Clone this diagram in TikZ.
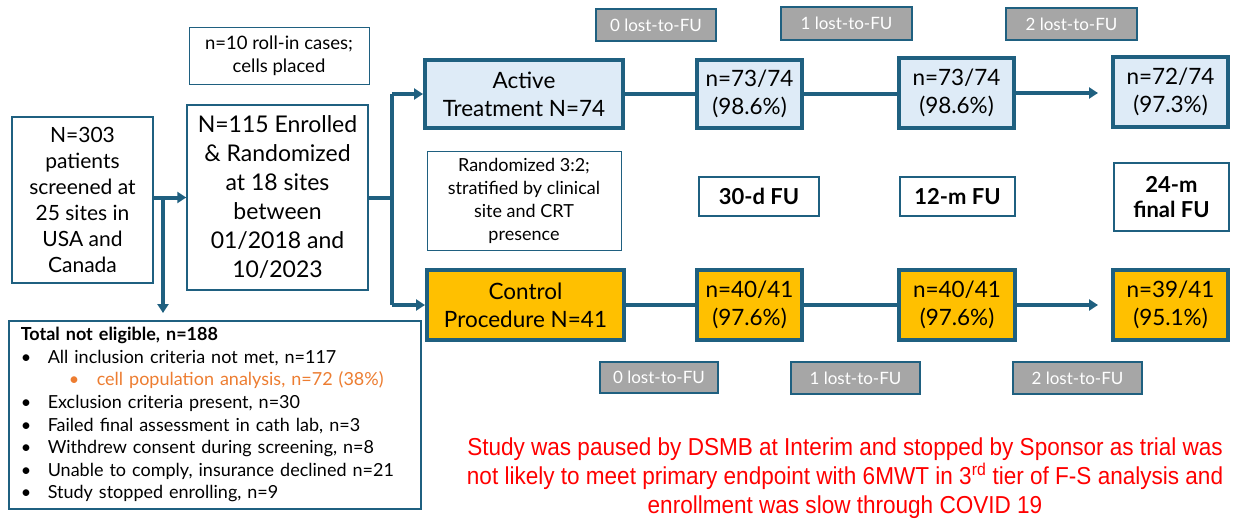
\documentclass[tikz,border=0pt]{standalone}
\usepackage{fontspec}
\setmainfont{Lato}
\newfontfamily\redfont[FakeStretch=0.92]{Liberation Sans}
\usetikzlibrary{arrows.meta}
\definecolor{dblue}{RGB}{31,96,128}
\definecolor{lblue}{RGB}{222,235,247}
\definecolor{gold}{RGB}{255,192,0}
\definecolor{lgray}{RGB}{166,166,166}
\definecolor{orangetext}{RGB}{237,125,49}
\definecolor{redtext}{RGB}{255,0,0}
\begin{document}
\begin{tikzpicture}[x=1pt,y=-1pt,
  thinbox/.style={draw=dblue,line width=1.5pt,fill=white,inner sep=0pt,align=center},
  thickbox/.style={draw=dblue,line width=4pt,inner sep=0pt,align=center,font=\fontsize{22.5}{28}\selectfont},
  activebox/.style={thickbox,fill=lblue},
  ctrlbox/.style={thickbox,fill=gold},
  lostbox/.style={draw=dblue,line width=1.2pt,fill=lgray,text=white,inner sep=0pt,font=\fontsize{17}{18}\selectfont},
  fubox/.style={thinbox,font=\bfseries\fontsize{22}{25}\selectfont},
  conn/.style={draw=dblue,line width=4pt},
  arr/.style={-{Triangle[length=9pt,width=11pt]}}
]
\useasboundingbox (0,0) rectangle (1248,523);

% left column
\node[thinbox,minimum width=141pt,minimum height=166pt,font=\fontsize{21}{26}\selectfont] (scr) at (82.5,200)
  {N=303\\patients\\screened at\\25 sites in\\USA and\\Canada};
\node[thinbox,minimum width=181pt,minimum height=185pt,font=\fontsize{23}{29}\selectfont] (enr) at (277.5,197.5)
  {N=115 Enrolled\\\& Randomized\\at 18 sites\\between\\01/2018 and\\10/2023};
\node[thinbox,line width=1pt,minimum width=180pt,minimum height=57pt,font=\fontsize{18.5}{23}\selectfont] (roll) at (279,55.5)
  {n=10 roll-in cases;\\cells placed};

% not eligible box
\node[draw=dblue,line width=1.5pt,fill=white,anchor=north west,text width=388pt,inner xsep=12pt,inner ysep=3pt,
      minimum height=188pt,align=left,font=\fontsize{18}{22.6}\selectfont] (ne) at (8,320)
  {\textbf{Total not eligible, n=188}\\
   \makebox[27pt][l]{\textbullet}All inclusion criteria not met, n=117\\
   \hspace*{48pt}\makebox[28pt][l]{\textcolor{orangetext}{\textbullet}}\textcolor{orangetext}{cell population analysis, n=72 (38\%)}\\
   \makebox[27pt][l]{\textbullet}Exclusion criteria present, n=30\\
   \makebox[27pt][l]{\textbullet}Failed final assessment in cath lab, n=3\\
   \makebox[27pt][l]{\textbullet}Withdrew consent during screening, n=8\\
   \makebox[27pt][l]{\textbullet}Unable to comply, insurance declined n=21\\
   \makebox[27pt][l]{\textbullet}Study stopped enrolling, n=9};

% active row
\node[activebox,minimum width=198pt,minimum height=68pt] (act) at (524,94) {Active\\Treatment N=74};
\node[activebox,minimum width=105pt,minimum height=68pt] (a2) at (749.5,94) {n=73/74\\(98.6\%)};
\node[activebox,minimum width=115pt,minimum height=70pt] (a3) at (956.5,93) {n=73/74\\(98.6\%)};
\node[activebox,minimum width=115pt,minimum height=70pt] (a4) at (1170.5,92) {n=72/74\\(97.3\%)};

% top lost boxes
\node[lostbox,minimum width=120pt,minimum height=32pt] (l0) at (656,25) {0 lost-to-FU};
\node[lostbox,minimum width=131pt,minimum height=33pt] (l1) at (846.5,23.5) {1 lost-to-FU};
\node[lostbox,minimum width=131pt,minimum height=32pt] (l2) at (1071.5,24) {2 lost-to-FU};

% middle row
\node[thinbox,line width=1pt,minimum width=194pt,minimum height=99pt,font=\fontsize{18}{23}\selectfont] (rand) at (524,200.5)
  {Randomized 3:2;\\stratified by clinical\\site and CRT\\presence};
\node[fubox,minimum width=120pt,minimum height=39pt] (fu30) at (759,196.5) {30-d FU};
\node[fubox,minimum width=115pt,minimum height=39pt] (fu12) at (957.5,196.5) {12-m FU};
\node[fubox,minimum width=115pt,minimum height=68pt] (fu24) at (1171.5,197) {24-m\\final FU};

% control row
\node[ctrlbox,minimum width=197pt,minimum height=70pt] (ctl) at (525.5,305) {Control\\Procedure N=41};
\node[ctrlbox,minimum width=105pt,minimum height=70pt] (c2) at (749.5,305) {n=40/41\\(97.6\%)};
\node[ctrlbox,minimum width=116pt,minimum height=70pt] (c3) at (957,305) {n=40/41\\(97.6\%)};
\node[ctrlbox,minimum width=115pt,minimum height=70pt] (c4) at (1170.5,305) {n=39/41\\(95.1\%)};

% bottom lost boxes
\node[lostbox,minimum width=118pt,minimum height=31pt] (b0) at (659,377.5) {0 lost-to-FU};
\node[lostbox,minimum width=129pt,minimum height=32pt] (b1) at (855.5,378) {1 lost-to-FU};
\node[lostbox,minimum width=129pt,minimum height=32pt] (b2) at (1077.5,378) {2 lost-to-FU};

% red note
\node[text=redtext,align=center,font=\redfont\fontsize{24.5}{29}\selectfont] (note) at (845,478)
  {Study was paused by DSMB at Interim and stopped by Sponsor as trial was\\
   not likely to meet primary endpoint with 6MWT in 3\textsuperscript{rd} tier of F-S analysis and\\
   enrollment was slow through COVID 19};

% connectors
\coordinate (split) at (163,197.5);
\coordinate (br) at (392,197.5);
\draw[conn,arr] (scr.east |- enr.west) -- (enr.west);
\draw[conn,arr,shorten >=7pt] (split) -- (split |- ne.north);
\draw[conn] (enr.east) -- (br);
\draw[conn] (br |- act.west) -- (br |- ctl.west);
\draw[conn,arr] (br |- act.west) -- (act.west);
\draw[conn,arr] (br |- ctl.west) -- (ctl.west);
\draw[conn] (act.east) -- (act.east -| a2.west);
\draw[conn] (a2.east) -- (a2.east -| a3.west);
\draw[conn,arr,shorten >=13pt] (a3.east) -- (a3.east -| a4.west);
\draw[conn] (ctl.east) -- (ctl.east -| c2.west);
\draw[conn] (c2.east) -- (c2.east -| c3.west);
\draw[conn,arr,shorten >=13pt] (c3.east) -- (c3.east -| c4.west);
\end{tikzpicture}
\end{document}
